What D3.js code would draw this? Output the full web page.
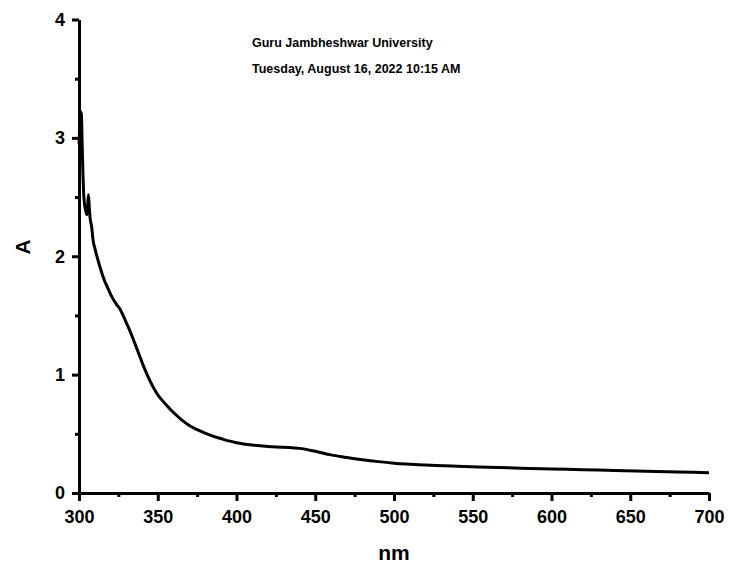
<!DOCTYPE html>
<html>
<head>
<meta charset="utf-8">
<script src="https://cdn.jsdelivr.net/npm/d3@7"></script>
<style>
  html, body { margin: 0; padding: 0; background: #fff; }
  svg { display: block; }
  text { font-family: "Liberation Sans", Arial, sans-serif; font-weight: bold; fill: #000; }
</style>
</head>
<body>
<svg id="chart" width="729" height="565"></svg>
<script>
// UV-Vis absorption spectrum: wavelength (nm) vs absorbance (A)
const wavelength = [
  300, 300.5, 301, 301.5, 302, 302.5, 303, 303.5, 304, 305, 305.5, 306, 306.5, 307, 308, 309, 310,
  312, 314, 316, 318, 320, 322, 324, 326, 328, 330, 332, 335, 338, 341, 345,
  350, 355, 360, 365, 370, 375, 380, 385, 390, 395, 400, 410, 420, 430, 440, 450,
  460, 470, 480, 490, 500, 520, 540, 560, 580, 600, 620, 640, 660, 680, 700
];
const absorbance = [
  2.95, 3.10, 3.22, 3.20, 2.95, 2.70, 2.52, 2.44, 2.40, 2.35, 2.42, 2.52, 2.42, 2.33, 2.25, 2.13, 2.07,
  1.97, 1.88, 1.80, 1.74, 1.68, 1.63, 1.59, 1.555, 1.50, 1.44, 1.38, 1.28, 1.175, 1.07, 0.95,
  0.83, 0.75, 0.68, 0.62, 0.57, 0.535, 0.505, 0.48, 0.46, 0.44, 0.425, 0.405, 0.393, 0.386, 0.377, 0.352,
  0.322, 0.30, 0.281, 0.265, 0.252, 0.236, 0.226, 0.218, 0.21, 0.203, 0.197, 0.19, 0.184, 0.178, 0.172
];

const xMajorTicks = [300, 350, 400, 450, 500, 550, 600, 650, 700];
const xMinorTicks = [325, 375, 425, 475, 525, 575, 625, 675];
const yMajorTicks = [0, 1, 2, 3, 4];
const yMinorTicks = [0.5, 1.5, 2.5, 3.5];

const headerLines = ["Guru Jambheshwar University", "Tuesday, August 16, 2022 10:15 AM"];
const xTitle = "nm";
const yTitle = "A";

const W = 729, H = 565;
const margin = { top: 19.5, right: 20, bottom: 72, left: 79 };

const svg = d3.select("#chart");

const x = d3.scaleLinear().domain([300, 700]).range([margin.left, W - margin.right]);
const y = d3.scaleLinear().domain([0, 4]).range([H - margin.bottom, margin.top]);

const tickFont = g => g.selectAll("text")
  .style("font-size", "18px")
  .style("font-family", "Liberation Sans, Arial, sans-serif")
  .style("font-weight", "bold");

// minor ticks (no labels)
svg.append("g")
  .attr("transform", `translate(0,${H - margin.bottom})`)
  .call(d3.axisBottom(x).tickValues(xMinorTicks).tickSize(4).tickFormat(""))
  .call(g => g.select(".domain").remove())
  .call(g => g.selectAll("line").attr("stroke", "#000").attr("stroke-width", 3));

svg.append("g")
  .attr("transform", `translate(${margin.left},0)`)
  .call(d3.axisLeft(y).tickValues(yMinorTicks).tickSize(4).tickFormat(""))
  .call(g => g.select(".domain").remove())
  .call(g => g.selectAll("line").attr("stroke", "#000").attr("stroke-width", 3));

// major axes
const xAxis = svg.append("g")
  .attr("transform", `translate(0,${H - margin.bottom})`)
  .call(d3.axisBottom(x).tickValues(xMajorTicks).tickSize(8).tickSizeOuter(0).tickPadding(9).tickFormat(d3.format("d")));
xAxis.select(".domain").attr("stroke", "#000").attr("stroke-width", 3);
xAxis.selectAll("line").attr("stroke", "#000").attr("stroke-width", 3);
xAxis.call(tickFont);

const yAxis = svg.append("g")
  .attr("transform", `translate(${margin.left},0)`)
  .call(d3.axisLeft(y).tickValues(yMajorTicks).tickSize(7).tickSizeOuter(0).tickPadding(7).tickFormat(d3.format("d")));
yAxis.select(".domain").attr("stroke", "#000").attr("stroke-width", 3);
yAxis.selectAll("line").attr("stroke", "#000").attr("stroke-width", 3);
yAxis.call(tickFont);

// spectrum line
const data = wavelength.map((w, i) => [w, absorbance[i]]);
svg.append("path")
  .datum(data)
  .attr("fill", "none")
  .attr("stroke", "#000")
  .attr("stroke-width", 3)
  .attr("stroke-linejoin", "round")
  .attr("d", d3.line().x(d => x(d[0])).y(d => y(d[1])).curve(d3.curveMonotoneX));

// axis titles
svg.append("text")
  .attr("x", (x(300) + x(700)) / 2)
  .attr("y", 560)
  .attr("text-anchor", "middle")
  .style("font-size", "21px")
  .text(xTitle);

svg.append("text")
  .attr("transform", `translate(30,247) rotate(-90)`)
  .attr("text-anchor", "middle")
  .style("font-size", "21px")
  .text(yTitle);

// header
svg.selectAll("text.header")
  .data(headerLines)
  .enter().append("text")
  .attr("class", "header")
  .attr("x", 252)
  .attr("y", (d, i) => 46.5 + i * 26.7)
  .style("font-size", "12.5px")
  .text(d => d);
</script>
</body>
</html>
